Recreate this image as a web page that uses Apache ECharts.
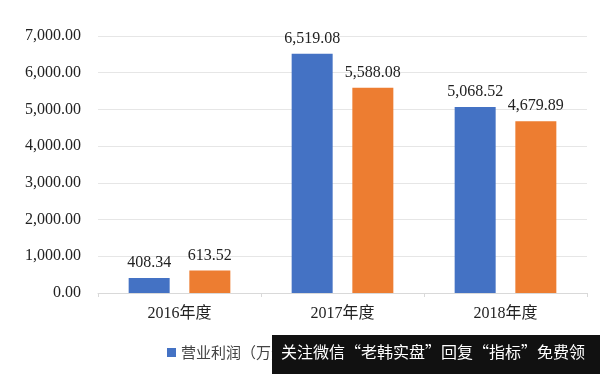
<!DOCTYPE html>
<html><head><meta charset="utf-8">
<script src="https://cdn.jsdelivr.net/npm/echarts@6/dist/echarts.min.js"></script>
<style>html,body{margin:0;padding:0;background:#fff}#c{width:600px;height:374px}</style>
</head><body><div id="c"></div>
<script>
var categories = ['2016年度', '2017年度', '2018年度'];
var seriesNames = ['营业利润（万元）', '净利润（万元）'];
var operatingProfit = [408.34, 6519.08, 5068.52];
var netProfit = [613.52, 5588.08, 4679.89];
var yTicks = [0, 1000, 2000, 3000, 4000, 5000, 6000, 7000];

function fmt(v) {
  return v.toLocaleString('en-US', {minimumFractionDigits: 2, maximumFractionDigits: 2});
}
var serif = '"Liberation Serif", "Noto Sans CJK SC", serif';
var chart = echarts.init(document.getElementById('c'));
chart.setOption({
  animation: false,
  backgroundColor: '#fff',
  grid: {left: 98, right: 13, top: 36, bottom: 81},
  legend: {
    data: seriesNames, left: 162, top: 340, itemWidth: 9, itemHeight: 9, itemGap: 40,
    icon: 'rect',
    textStyle: {fontFamily: '"Noto Sans CJK SC", sans-serif', fontSize: 15, color: '#444'}
  },
  xAxis: {
    type: 'category', data: categories,
    axisLine: {lineStyle: {color: '#d9d9d9'}},
    axisTick: {show: true, lineStyle: {color: '#d9d9d9'}, length: 4},
    axisLabel: {fontFamily: serif, fontSize: 16, color: '#222', margin: 13}
  },
  yAxis: {
    type: 'value', min: yTicks[0], max: yTicks[yTicks.length - 1], interval: 1000,
    axisLine: {show: false}, axisTick: {show: false},
    splitLine: {lineStyle: {color: '#e6e6e6'}},
    axisLabel: {fontFamily: serif, fontSize: 16, color: '#222', margin: 17, formatter: fmt}
  },
  series: [
    {name: seriesNames[0], type: 'bar', data: operatingProfit, barWidth: 41, barGap: '48%',
     itemStyle: {color: '#4472c4'},
     label: {show: true, position: 'top', distance: 7, fontFamily: serif, fontSize: 16, color: '#222', formatter: function(p){return fmt(p.value);}}},
    {name: seriesNames[1], type: 'bar', data: netProfit, barWidth: 41,
     itemStyle: {color: '#ed7d31'},
     label: {show: true, position: 'top', distance: 7, fontFamily: serif, fontSize: 16, color: '#222', formatter: function(p){return fmt(p.value);}}}
  ],
  graphic: [
    {type: 'rect', left: 272, top: 335, shape: {width: 328, height: 39}, style: {fill: '#111'}, z: 100},
    {type: 'text', left: 281, top: 344, z: 101,
     style: {text: '关注微信“老韩实盘”回复“指标”免费领', fill: '#fff', font: '16px "Noto Sans CJK SC", sans-serif'}}
  ]
});
</script></body></html>
